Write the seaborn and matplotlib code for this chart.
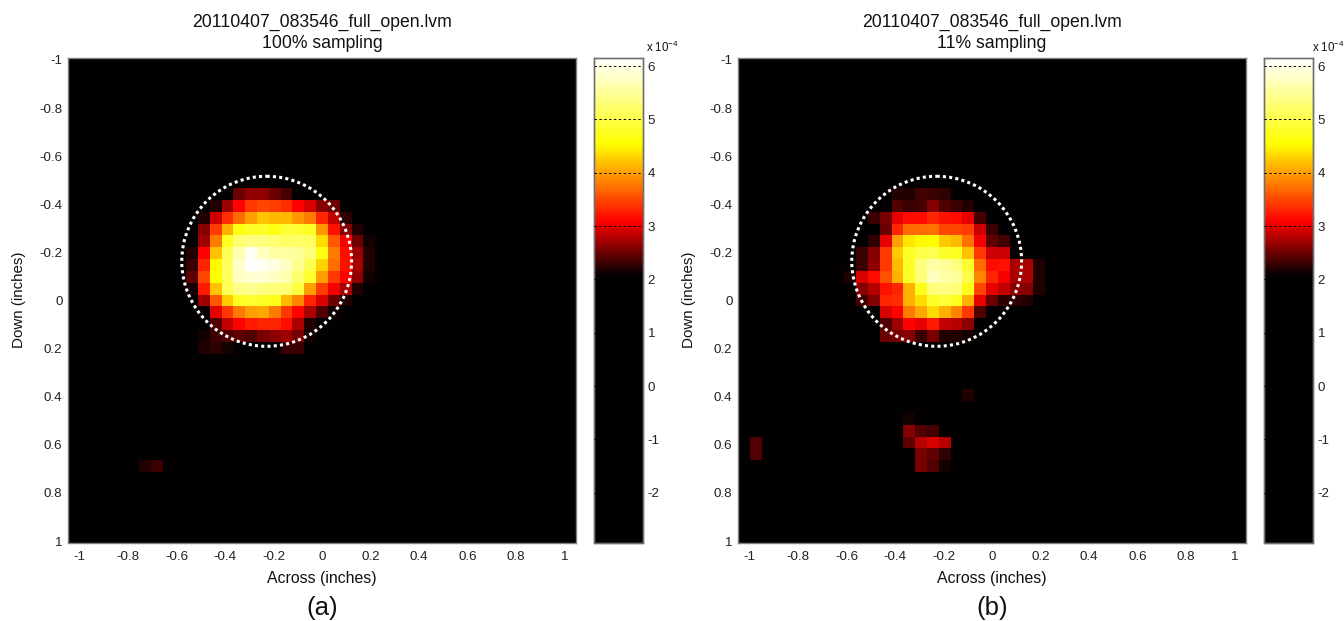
import numpy as np
import matplotlib
matplotlib.use("Agg")
import matplotlib.pyplot as plt
from matplotlib.colors import LinearSegmentedColormap
from matplotlib.patches import Circle
import seaborn as sns

# values in units of 1e-4
BG = 1.5
N_ROWS, N_COLS = 41, 43

LEFT_TITLE = "20110407_083546_full_open.lvm\n100% sampling"
RIGHT_TITLE = "20110407_083546_full_open.lvm\n11% sampling"
TICK_VALUES = [-1, -0.8, -0.6, -0.4, -0.2, 0, 0.2, 0.4, 0.6, 0.8, 1]
TICK_LABELS = ["-1", "-0.8", "-0.6", "-0.4", "-0.2", "0", "0.2", "0.4", "0.6", "0.8", "1"]
CBAR_TICKS = [-2, -1, 0, 1, 2, 3, 4, 5, 6]

# main spot, first row is grid row 11, first column is grid col 10
LEFT_SPOT = [
    [0, 0, 0, 0, 2.5, 2.65, 2.65, 2.5, 2.35, 0, 0, 0, 0, 0, 0, 0],
    [0, 2.05, 2.2, 2.7, 3.1, 3.4, 3.5, 3.45, 3.35, 3.1, 2.95, 2.6, 2.5, 0, 0, 0],
    [0, 2.2, 2.9, 3.35, 3.7, 4.0, 4.2, 4.15, 4.15, 3.95, 3.8, 3.3, 2.85, 2.25, 0, 0],
    [0, 2.6, 3.45, 4.1, 4.65, 4.8, 4.8, 4.65, 4.9, 4.85, 4.8, 3.95, 3.2, 2.6, 2.2, 0],
    [0, 2.7, 3.8, 4.75, 5.25, 5.35, 5.35, 5.25, 5.15, 5.2, 5.15, 4.35, 3.6, 3.05, 2.5, 2.15],
    [2.2, 3.1, 4.2, 5.1, 5.65, 6.05, 5.75, 5.55, 5.55, 5.5, 5.3, 4.65, 3.8, 3.15, 2.7, 2.2],
    [2.3, 3.3, 4.5, 5.15, 5.8, 6.15, 6.05, 5.95, 5.75, 5.45, 5.05, 4.3, 3.7, 3.2, 2.75, 2.2],
    [2.45, 3.5, 4.55, 5.15, 5.75, 5.85, 5.85, 5.75, 5.65, 5.2, 4.85, 4.0, 3.4, 3.1, 2.65, 2.15],
    [2.15, 3.25, 4.2, 5.1, 5.4, 5.45, 5.35, 5.3, 5.25, 4.95, 4.0, 3.45, 3.05, 2.75, 2.2, 0],
    [0, 2.7, 3.6, 4.25, 4.75, 4.85, 4.8, 4.7, 4.15, 3.85, 3.3, 2.95, 2.5, 2.2, 0, 0],
    [0, 2.1, 3.0, 3.4, 3.8, 4.0, 4.05, 3.8, 3.4, 3.1, 2.75, 2.4, 2.15, 0, 0, 0],
    [0, 0, 2.4, 2.85, 3.1, 3.25, 3.3, 3.3, 3.15, 2.75, 2.2, 0, 0, 0, 0, 0],
    [0, 2.15, 2.3, 2.4, 2.45, 2.4, 2.55, 2.65, 2.7, 2.55, 2.15, 0, 0, 0, 0, 0],
    [0, 2.2, 2.25, 2.15, 0, 0, 0, 0, 2.3, 2.3, 0, 0, 0, 0, 0, 0],
]
LEFT_SPECK = [[2.2, 2.3]]  # grid row 34, col 6

# first row is grid row 11, first column is grid col 9
RIGHT_SPOT = [
    [0, 0, 0, 0, 2.2, 2.2, 2.35, 2.3, 2.25, 0, 0, 0, 0, 0, 0, 0, 0],
    [0, 0, 0, 0, 2.4, 2.3, 2.35, 2.6, 2.4, 2.3, 2.2, 0, 0, 0, 0, 0, 0],
    [0, 0, 2.3, 2.55, 3.0, 3.15, 3.15, 3.3, 3.2, 3.15, 3.0, 2.35, 0, 0, 0, 0, 0],
    [0, 0, 0, 2.5, 3.3, 3.7, 3.7, 3.75, 3.5, 3.5, 3.45, 2.9, 2.3, 0, 0, 0, 0],
    [0, 0, 2.25, 3.0, 4.0, 4.4, 4.5, 4.55, 4.25, 4.15, 3.75, 3.05, 2.45, 2.35, 0, 0, 0],
    [0, 2.3, 2.6, 3.4, 4.25, 4.8, 5.0, 5.05, 4.8, 4.75, 4.2, 3.4, 2.9, 2.9, 0, 0, 0],
    [0, 2.3, 2.65, 3.4, 4.15, 4.8, 5.35, 5.6, 5.5, 5.35, 4.85, 3.7, 3.15, 3.2, 2.75, 2.75, 2.2],
    [2.2, 2.95, 3.15, 3.55, 4.1, 4.8, 5.3, 5.75, 5.6, 5.5, 5.0, 3.85, 3.3, 3.05, 2.75, 2.75, 2.2],
    [0, 2.6, 2.8, 3.2, 3.3, 4.1, 4.7, 5.3, 5.35, 5.3, 4.7, 3.5, 3.0, 2.85, 2.65, 2.6, 2.2],
    [0, 2.35, 2.6, 3.3, 3.35, 4.1, 4.35, 4.8, 4.9, 4.75, 4.1, 3.0, 2.5, 2.25, 2.25, 2.2, 0],
    [0, 0, 0, 2.95, 3.1, 3.8, 4.05, 4.35, 4.1, 3.85, 3.4, 2.4, 0, 0, 0, 0, 0],
    [0, 0, 0, 2.4, 2.7, 3.1, 3.0, 3.25, 2.85, 2.8, 2.65, 0, 0, 0, 0, 0, 0],
    [0, 0, 0, 2.5, 2.55, 2.6, 2.3, 2.55, 2.2, 2.2, 2.15, 0, 0, 0, 0, 0, 0],
]
# lower cluster, first row is grid row 30, first column is grid col 14
RIGHT_CLUSTER = [
    [2.15, 0, 0, 0],
    [2.6, 2.4, 2.35, 0],
    [2.45, 2.8, 2.95, 2.8],
    [0, 2.55, 2.45, 2.25],
    [0, 2.55, 2.4, 2.15],
]
RIGHT_EDGE = [[2.4], [2.4]]  # grid rows 32-33, col 1
RIGHT_FAINT = [[2.2]]  # grid row 28, col 19

# reference size in pixels, used to place things
W, H = 1344, 621
X_LIM = 1.047
Y_LIM = 1.008
CIRCLE_X, CIRCLE_Y, CIRCLE_R = -0.228, -0.163, 0.35

VMIN, VMAX = -2.94, 6.15


def frac(v):
    return (v - VMIN) / (VMAX - VMIN)


cmap = LinearSegmentedColormap.from_list("spot", [
    (0.0, "#020001"),
    (frac(2.08), "#020001"),
    (frac(3.1), "#ff0000"),
    (frac(4.55), "#ffff00"),
    (1.0, "#ffffff"),
], N=512)


def put(grid, patch, row, col):
    patch = np.array(patch, dtype=float)
    sub = grid[row:row + patch.shape[0], col:col + patch.shape[1]]
    sub[patch > 0] = patch[patch > 0]


def px_axes(left, top, right, bottom):
    return [left / W, 1 - bottom / H, (right - left) / W, (bottom - top) / H]


def draw_panel(grid, x0, title, letter, exp_x):
    ax = fig.add_axes(px_axes(x0, 58, x0 + 508, 543))
    cax = fig.add_axes(px_axes(x0 + 526, 58, x0 + 575, 543))
    sns.heatmap(grid, ax=ax, cbar_ax=cax, cmap=cmap, vmin=VMIN, vmax=VMAX,
                xticklabels=False, yticklabels=False,
                cbar_kws={"ticks": CBAR_TICKS})

    # inches to cell units
    x_pos = [(v + X_LIM) / (2 * X_LIM) * N_COLS for v in TICK_VALUES]
    y_pos = [(v + Y_LIM) / (2 * Y_LIM) * N_ROWS for v in TICK_VALUES]
    ax.set_xticks(x_pos)
    ax.set_xticklabels(TICK_LABELS, rotation=0)
    ax.set_yticks(y_pos)
    ax.set_yticklabels(TICK_LABELS, rotation=0)
    ax.tick_params(axis="x", length=0, pad=5.5, labelsize=9.6, colors="#222222")
    ax.tick_params(axis="y", length=0, pad=4, labelsize=9.6, colors="#222222")
    for s in ax.spines.values():
        s.set_visible(True)
        s.set_color("#808080")
        s.set_linewidth(1)

    cx = (CIRCLE_X + X_LIM) / (2 * X_LIM) * N_COLS
    cy = (CIRCLE_Y + Y_LIM) / (2 * Y_LIM) * N_ROWS
    r = CIRCLE_R / (2 * X_LIM) * N_COLS
    ax.add_patch(Circle((cx, cy), r, fill=False, ec="white", lw=2.2,
                        ls=(0, (1.0, 1.05))))

    cax.tick_params(length=0, pad=3.5, labelsize=9.6, colors="#222222")
    cax.yaxis.grid(True, color="black", lw=0.7, ls=(0, (2.5, 2.5)))
    cax.set_axisbelow(False)
    for s in cax.spines.values():
        s.set_visible(True)
        s.set_color("#707070")
        s.set_linewidth(1)

    mid = x0 + 254
    fig.text(mid / W, 1 - 33 / H, title, ha="center", va="center", fontsize=12.7,
             linespacing=1.27, color="#111111")
    fig.text(mid / W, 1 - 579 / H, "Across (inches)", ha="center", va="center",
             fontsize=11.4, color="#111111")
    fig.text((x0 - 49) / W, 1 - 300 / H, "Down (inches)", ha="center", va="center",
             rotation=90, fontsize=10.9, color="#111111")
    fig.text(mid / W, 1 - 608 / H, letter, ha="center", va="center", fontsize=18.5,
             color="#111111")
    fig.text(exp_x / W, 1 - 47 / H, "x 10$^{-4}$", ha="left", va="center",
             fontsize=8.3, color="#111111")


left_grid = np.full((N_ROWS, N_COLS), BG)
put(left_grid, LEFT_SPOT, 11, 10)
put(left_grid, LEFT_SPECK, 34, 6)

right_grid = np.full((N_ROWS, N_COLS), BG)
put(right_grid, RIGHT_SPOT, 11, 9)
put(right_grid, RIGHT_CLUSTER, 30, 14)
put(right_grid, RIGHT_EDGE, 32, 1)
put(right_grid, RIGHT_FAINT, 28, 19)

sns.set_theme(style="white")
plt.rcParams["font.family"] = ["Liberation Sans", "DejaVu Sans"]
plt.rcParams["mathtext.default"] = "regular"
plt.rcParams["axes.unicode_minus"] = False

fig = plt.figure(figsize=(W / 100, H / 100), dpi=100)
draw_panel(left_grid, 68, LEFT_TITLE, "(a)", 646)
draw_panel(right_grid, 738, RIGHT_TITLE, "(b)", 1312)

fig.savefig("out.png", dpi=100)
